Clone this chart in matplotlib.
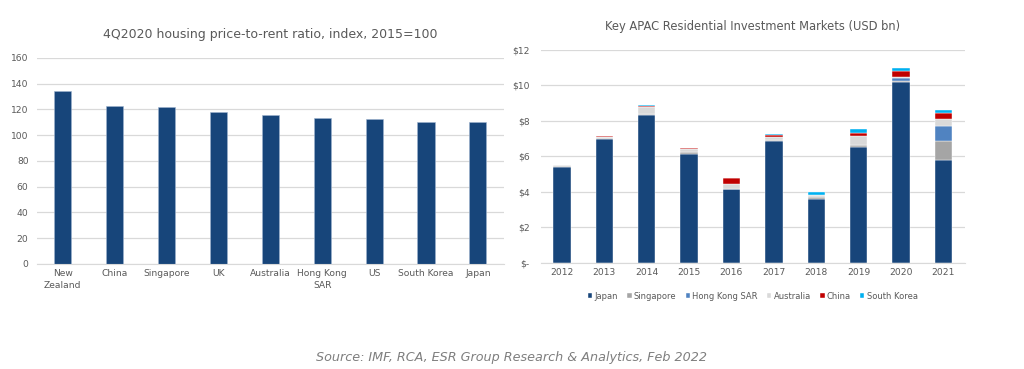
import matplotlib.pyplot as plt
import numpy as np

# left chart: price-to-rent index
countries = ['New\nZealand', 'China', 'Singapore', 'UK', 'Australia',
             'Hong Kong\nSAR', 'US', 'South Korea', 'Japan']
ratio = [134, 122.5, 122, 117.6, 115.3, 113.4, 112.4, 110.6, 110.1]

# right chart: residential investment, USD bn
years = ['2012', '2013', '2014', '2015', '2016', '2017', '2018', '2019', '2020', '2021']
japan = [5.41, 6.99, 8.30, 6.12, 4.13, 6.84, 3.57, 6.54, 10.16, 5.80]
singapore = [0.03, 0.02, 0.10, 0.13, 0.00, 0.10, 0.15, 0.07, 0.11, 1.07]
hong_kong = [0.00, 0.00, 0.00, 0.00, 0.00, 0.00, 0.00, 0.00, 0.13, 0.85]
australia = [0.04, 0.05, 0.37, 0.17, 0.28, 0.13, 0.10, 0.56, 0.04, 0.36]
china = [0.05, 0.06, 0.07, 0.05, 0.34, 0.13, 0.00, 0.15, 0.38, 0.34]
south_korea = [0.00, 0.00, 0.05, 0.01, 0.03, 0.08, 0.19, 0.23, 0.17, 0.17]

series = [('Japan', japan, '#17457A'),
          ('Singapore', singapore, '#A5A5A5'),
          ('Hong Kong SAR', hong_kong, '#5083C1'),
          ('Australia', australia, '#D9D9D9'),
          ('China', china, '#C00000'),
          ('South Korea', south_korea, '#00B0F0')]

grey = '#595959'
grid = '#D9D9D9'

fig = plt.figure(figsize=(10.24, 3.69), dpi=100)


def style(ax):
    for s in ['top', 'right', 'left']:
        ax.spines[s].set_visible(False)
    ax.spines['bottom'].set_color(grid)
    ax.grid(axis='y', color=grid, linewidth=0.9)
    ax.set_axisbelow(True)
    ax.tick_params(length=0, colors=grey, labelsize=6.6)


# left panel
ax1 = fig.add_axes([0.036, 0.285, 0.456, 0.558])
x1 = np.arange(len(countries))
ax1.bar(x1, ratio, width=0.33, color='#17457A', edgecolor='#9FB4CF', linewidth=0.4)
ax1.set_ylim(0, 160)
ax1.set_yticks(range(0, 161, 20))
ax1.set_xlim(-0.5, len(countries) - 0.5)
ax1.set_xticks(x1)
ax1.set_xticklabels(countries, linespacing=1.5)
style(ax1)
ax1.tick_params(axis='y', pad=6)
ax1.set_title('4Q2020 housing price-to-rent ratio, index, 2015=100',
              color=grey, fontsize=9, pad=14)

# right panel
ax2 = fig.add_axes([0.528, 0.288, 0.414, 0.577])
x2 = np.arange(len(years))
bottom = np.zeros(len(years))
for name, vals, col in series:
    ax2.bar(x2, vals, bottom=bottom, width=0.41, color=col, label=name,
            edgecolor='white', linewidth=0.3)
    bottom += np.array(vals)
ax2.set_ylim(0, 12)
ax2.set_yticks(range(0, 13, 2))
ax2.set_yticklabels(['$-'] + ['$%d' % v for v in range(2, 13, 2)])
ax2.set_xlim(-0.5, len(years) - 0.5)
ax2.set_xticks(x2)
ax2.set_xticklabels(years)
style(ax2)
ax2.tick_params(axis='y', pad=8)
ax2.set_title('Key APAC Residential Investment Markets (USD bn)',
              color=grey, fontsize=8.3, pad=14)
leg = ax2.legend(loc='upper center', bbox_to_anchor=(0.5, -0.1), ncol=6,
                 frameon=False, fontsize=6, handlelength=0.55, handleheight=0.55,
                 handletextpad=0.25, columnspacing=1.1)
for t in leg.get_texts():
    t.set_color(grey)

fig.text(0.5, 0.032, 'Source: IMF, RCA, ESR Group Research & Analytics, Feb 2022',
         ha='center', va='center', style='italic', color='#7F7F7F', fontsize=9.2)

fig.savefig('out.png', dpi=100)
